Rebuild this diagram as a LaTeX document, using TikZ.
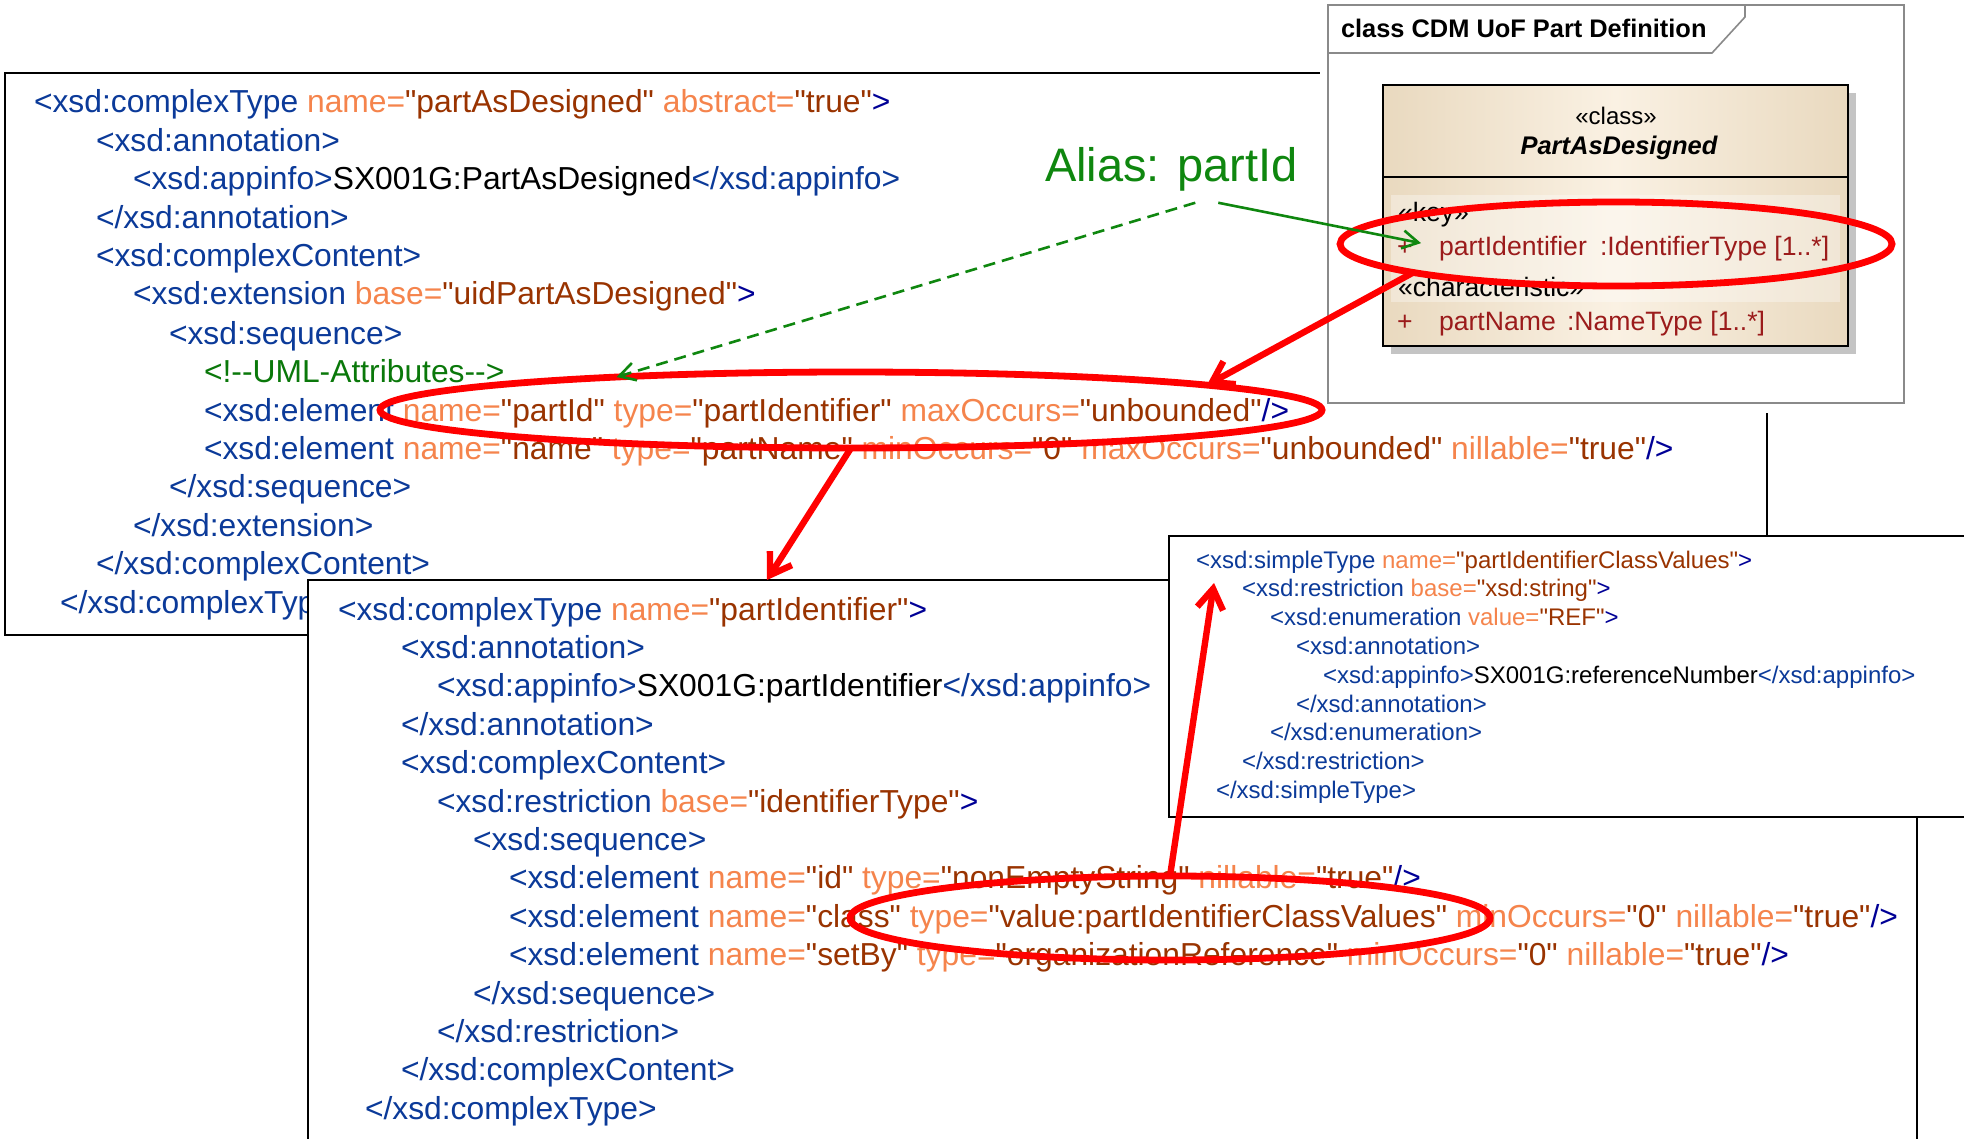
\documentclass[tikz,border=0pt]{standalone}
\usepackage{fontspec}
\newfontfamily\xf{Liberation Sans}
\usetikzlibrary{arrows.meta,shapes.geometric}

\definecolor{tagblue}{HTML}{0B3A99}
\definecolor{closeblue}{HTML}{000096}
\definecolor{attrname}{HTML}{F5844C}
\definecolor{attrval}{HTML}{993300}
\definecolor{cmtgreen}{HTML}{0A780A}
\definecolor{aliasgreen}{HTML}{0F870F}
\definecolor{umlred}{HTML}{9B1B1B}
\definecolor{beigeD}{HTML}{E9D9BF}
\definecolor{beigeL}{HTML}{FAF1E3}
\definecolor{framegray}{HTML}{8A8A8A}
\definecolor{shadowgray}{HTML}{C4C4C4}

% XML syntax colouring
\newcommand\xtag[1]{\textcolor{tagblue}{#1}}
\newcommand\xatt[1]{\textcolor{attrname}{#1}}
\newcommand\xval[1]{\textcolor{attrval}{#1}}
\newcommand\xend[1]{\textcolor{closeblue}{#1}}
\newcommand\xcmt[1]{\textcolor{cmtgreen}{#1}}

\begin{document}
\begin{tikzpicture}[x=0.5pt,y=-0.5pt,
  every node/.style={inner sep=0pt,outer sep=0pt},
  codeL/.style={anchor=base west,font=\xf\fontsize{15.9}{19}\selectfont},
  codeS/.style={anchor=base west,font=\xf\fontsize{12}{14}\selectfont},
  xmlbox/.style={rectangle,draw=black,line width=1.2pt,fill=white,anchor=north west},
  umltext/.style={anchor=base west,font=\xf\fontsize{13.3}{15}\selectfont},
  redring/.style={ellipse,draw=red,line width=3.4pt},
  redarrow/.style={draw=red,line width=3.2pt,-{Straight Barb[length=10pt,width=13pt]}},
  greenarrow/.style={draw=aliasgreen,line width=1.3pt,-{Straight Barb[length=8pt,width=9pt]}}]

\useasboundingbox (0,0) rectangle (1964,1139);
\clip (0,0) rectangle (1964,1139);
\fill[white] (0,0) rectangle (1964,1139);

% ---- complexType partAsDesigned ----
\node[xmlbox,minimum width=881pt,minimum height=281pt] (boxA) at (5,73) {};
\node[codeL] (a1) at (34,113) {\xtag{<xsd:complexType} \xatt{name=}\xval{"partAsDesigned"} \xatt{abstract=}\xval{"true"}\xend{>}};
\node[codeL] (a2) at (96,151.5) {\xtag{<xsd:annotation>}};
\node[codeL] (a3) at (133,190) {\xtag{<xsd:appinfo>}SX001G:PartAsDesigned\xtag{</xsd:appinfo>}};
\node[codeL] (a4) at (96,228) {\xtag{</xsd:annotation>}};
\node[codeL] (a5) at (96,267) {\xtag{<xsd:complexContent>}};
\node[codeL] (a6) at (133,305) {\xtag{<xsd:extension} \xatt{base=}\xval{"uidPartAsDesigned"}\xend{>}};
\node[codeL] (a7) at (169,344) {\xtag{<xsd:sequence>}};
\node[codeL] (a8) at (204,382) {\xcmt{<!{-}{-}UML-Attributes{-}{-}>}};
\node[codeL] (a9) at (204,421) {\xtag{<xsd:element} \xatt{name=}\xval{"partId"} \xatt{type=}\xval{"partIdentifier"} \xatt{maxOccurs=}\xval{"unbounded"}\xend{/>}};
\node[codeL] (a10) at (204,459) {\xtag{<xsd:element} \xatt{name=}\xval{"name"} \xatt{type=}\xval{"partName"} \xatt{minOccurs=}\xval{"0"} \xatt{maxOccurs=}\xval{"unbounded"} \xatt{nillable=}\xval{"true"}\xend{/>}};
\node[codeL] (a11) at (169,497.5) {\xtag{</xsd:sequence>}};
\node[codeL] (a12) at (133,536) {\xtag{</xsd:extension>}};
\node[codeL] (a13) at (96,574) {\xtag{</xsd:complexContent>}};
\node[codeL] (a14) at (60,613) {\xtag{</xsd:complexType>}};

% ---- UML class diagram frame ----
\fill[white] (1320,0) rectangle (1914,413);
\node[rectangle,draw=framegray,line width=0.8pt,anchor=north west,minimum width=288pt,minimum height=199pt] (frame) at (1328,5) {};
\draw[framegray,line width=0.8pt] (1328,53) -- (1712,53) -- (1745,17) -- (1745,5);
\node[anchor=base west,font=\xf\bfseries\fontsize{12.7}{15}\selectfont] (title) at (1341,38) {class CDM UoF Part Definition};

\fill[shadowgray] (1391,93) rectangle (1856,354);
\node[rectangle,draw=black,line width=1.3pt,anchor=north west,minimum width=232.5pt,minimum height=130.5pt,left color=beigeD,right color=beigeD,middle color=beigeL] (cls) at (1383,85) {};
\fill[white,opacity=0.35] (1391,195) rectangle (1840,302);
\draw[line width=1.3pt] (1383,177) -- (1848,177);
\node[anchor=base,font=\xf\fontsize{12}{14}\selectfont] (stc) at (1616,125) {«class»};
\node[anchor=base,font=\xf\bfseries\itshape\fontsize{12.75}{15}\selectfont] (cname) at (1619,155) {PartAsDesigned};
\node[umltext] (skey) at (1398,222) {«key»};
\node[umltext,text=umlred] (pk) at (1397,256) {+};
\node[umltext,text=umlred] (pid) at (1439,256) {partIdentifier};
\node[umltext,text=umlred] (ptype) at (1600,256) {:IdentifierType [1..*]};
\node[umltext] (schar) at (1398,297) {«characteristic»};
\node[umltext,text=umlred] (pn) at (1397,330) {+};
\node[umltext,text=umlred] (pname) at (1439,330) {partName};
\node[umltext,text=umlred] (ntype) at (1567,330) {:NameType [1..*]};

% ---- complexType partIdentifier ----
\node[xmlbox,minimum width=804.5pt,minimum height=320pt] (boxB) at (308,580) {};
\node[codeL] (b1) at (338,620) {\xtag{<xsd:complexType} \xatt{name=}\xval{"partIdentifier"}\xend{>}};
\node[codeL] (b2) at (401,658.4) {\xtag{<xsd:annotation>}};
\node[codeL] (b3) at (437,696.8) {\xtag{<xsd:appinfo>}SX001G:partIdentifier\xtag{</xsd:appinfo>}};
\node[codeL] (b4) at (401,735.2) {\xtag{</xsd:annotation>}};
\node[codeL] (b5) at (401,773.6) {\xtag{<xsd:complexContent>}};
\node[codeL] (b6) at (437,812) {\xtag{<xsd:restriction} \xatt{base=}\xval{"identifierType"}\xend{>}};
\node[codeL] (b7) at (473,850.4) {\xtag{<xsd:sequence>}};
\node[codeL] (b8) at (509,888.8) {\xtag{<xsd:element} \xatt{name=}\xval{"id"} \xatt{type=}\xval{"nonEmptyString"} \xatt{nillable=}\xval{"true"}\xend{/>}};
\node[codeL] (b9) at (509,927.2) {\xtag{<xsd:element} \xatt{name=}\xval{"class"} \xatt{type=}\xval{"value:partIdentifierClassValues"} \xatt{minOccurs=}\xval{"0"} \xatt{nillable=}\xval{"true"}\xend{/>}};
\node[codeL] (b10) at (509,965.6) {\xtag{<xsd:element} \xatt{name=}\xval{"setBy"} \xatt{type=}\xval{"organizationReference"} \xatt{minOccurs=}\xval{"0"} \xatt{nillable=}\xval{"true"}\xend{/>}};
\node[codeL] (b11) at (473,1004) {\xtag{</xsd:sequence>}};
\node[codeL] (b12) at (437,1042.4) {\xtag{</xsd:restriction>}};
\node[codeL] (b13) at (401,1080.8) {\xtag{</xsd:complexContent>}};
\node[codeL] (b14) at (365,1119.2) {\xtag{</xsd:complexType>}};

% ---- simpleType partIdentifierClassValues ----
\node[xmlbox,minimum width=420pt,minimum height=140.5pt] (boxC) at (1169,536) {};
\node[codeS] (c1) at (1196,568) {\xtag{<xsd:simpleType} \xatt{name=}\xval{"partIdentifierClassValues"}\xend{>}};
\node[codeS] (c2) at (1242,596.8) {\xtag{<xsd:restriction} \xatt{base=}\xval{"xsd:string"}\xend{>}};
\node[codeS] (c3) at (1270,625.6) {\xtag{<xsd:enumeration} \xatt{value=}\xval{"REF"}\xend{>}};
\node[codeS] (c4) at (1296,654.4) {\xtag{<xsd:annotation>}};
\node[codeS] (c5) at (1323,683.2) {\xtag{<xsd:appinfo>}SX001G:referenceNumber\xtag{</xsd:appinfo>}};
\node[codeS] (c6) at (1296,712) {\xtag{</xsd:annotation>}};
\node[codeS] (c7) at (1270,740.8) {\xtag{</xsd:enumeration>}};
\node[codeS] (c8) at (1242,769.6) {\xtag{</xsd:restriction>}};
\node[codeS] (c9) at (1216,798.4) {\xtag{</xsd:simpleType>}};

% ---- highlights and links ----
\node[redring,minimum width=276pt,minimum height=42pt] (e1) at (1616,244) {};
\node[redring,minimum width=471pt,minimum height=38pt] (e2) at (851,410) {};
\node[redring,minimum width=320pt,minimum height=42pt] (e3) at (1170,918) {};

\draw[redarrow] (e1.188) -- (e2.4.6);
\draw[redarrow] (e2.270) -- ([xshift=229.5pt]boxB.north west);
\draw[redarrow] (e3.90) -- ([xshift=9pt,yshift=-5pt]c1.south west);

\node[anchor=base west,font=\xf\fontsize{23.5}{28}\selectfont,text=aliasgreen] (alias) at (1045,182) {Alias: partId};
\draw[greenarrow,dash pattern=on 6pt off 3.5pt] ([xshift=12pt,yshift=-5.5pt]alias.south) -- (e2.172.7);
\draw[greenarrow] ([xshift=23.5pt,yshift=-5.5pt]alias.south) -- ([xshift=-9pt,yshift=3pt]pid.west);
\end{tikzpicture}
\end{document}
